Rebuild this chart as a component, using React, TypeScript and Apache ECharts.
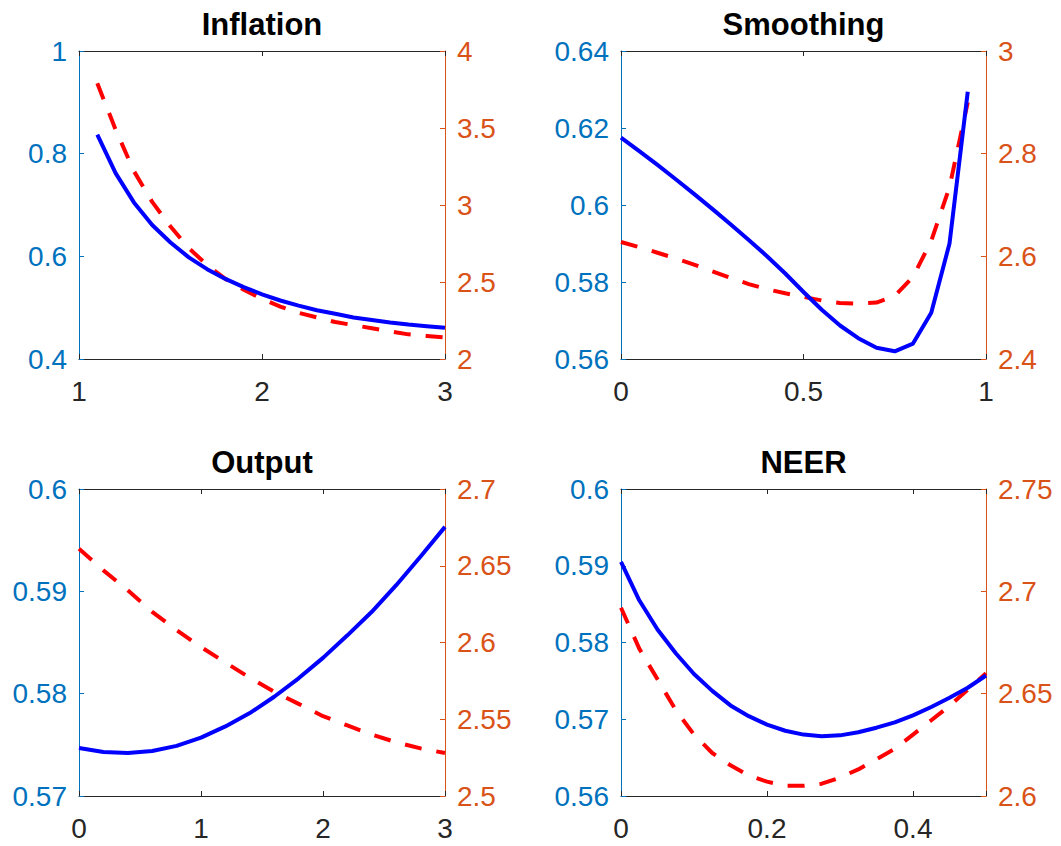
import React, { useEffect, useRef } from "react";
import * as echarts from "echarts";

// ---------- Data ----------
const titles = ["Inflation", "Smoothing", "Output", "NEER"];

const inflationX = [1.1, 1.2, 1.3, 1.4, 1.5, 1.6, 1.7, 1.8, 1.9, 2.0, 2.1, 2.2, 2.3, 2.4, 2.5, 2.6, 2.7, 2.8, 2.9, 3.0];
const inflationBlue = [0.837, 0.762, 0.705, 0.661, 0.627, 0.598, 0.575, 0.556, 0.540, 0.526, 0.514, 0.504, 0.495, 0.488, 0.481, 0.476, 0.471, 0.467, 0.464, 0.461];
const inflationRed = [3.79, 3.49, 3.22, 3.02, 2.86, 2.72, 2.61, 2.52, 2.45, 2.39, 2.34, 2.30, 2.27, 2.24, 2.22, 2.20, 2.18, 2.16, 2.15, 2.14];

const smoothingX = [0, 0.05, 0.1, 0.15, 0.2, 0.25, 0.3, 0.35, 0.4, 0.45, 0.5, 0.55, 0.6, 0.65, 0.7, 0.75, 0.8, 0.85, 0.9, 0.95];
const smoothingBlue = [0.6175, 0.6140, 0.6104, 0.6067, 0.6029, 0.5990, 0.5950, 0.5909, 0.5867, 0.5822, 0.5774, 0.5728, 0.5687, 0.5654, 0.5629, 0.5620, 0.5640, 0.5720, 0.5900, 0.6294];
const smoothingRed = [2.628, 2.618, 2.607, 2.596, 2.584, 2.571, 2.558, 2.546, 2.536, 2.528, 2.521, 2.514, 2.509, 2.508, 2.510, 2.523, 2.560, 2.630, 2.735, 2.900];

const outputX = [0, 0.2, 0.4, 0.6, 0.8, 1.0, 1.2, 1.4, 1.6, 1.8, 2.0, 2.2, 2.4, 2.6, 2.8, 3.0];
const outputBlue = [0.5747, 0.5743, 0.5742, 0.5744, 0.5749, 0.5757, 0.5768, 0.5781, 0.5797, 0.5815, 0.5835, 0.5857, 0.5880, 0.5906, 0.5934, 0.5963];
const outputRed = [2.661, 2.647, 2.634, 2.620, 2.608, 2.597, 2.587, 2.577, 2.568, 2.560, 2.552, 2.546, 2.540, 2.535, 2.531, 2.528];

const neerX = [0, 0.025, 0.05, 0.075, 0.1, 0.125, 0.15, 0.175, 0.2, 0.225, 0.25, 0.275, 0.3, 0.325, 0.35, 0.375, 0.4, 0.425, 0.45, 0.475, 0.5];
const neerBlue = [0.5905, 0.5855, 0.5817, 0.5786, 0.5759, 0.5737, 0.5718, 0.5704, 0.5693, 0.5685, 0.5680, 0.5678, 0.5679, 0.5683, 0.5689, 0.5696, 0.5705, 0.5716, 0.5728, 0.5741, 0.5757];
const neerRed = [2.692, 2.672, 2.657, 2.642, 2.630, 2.621, 2.615, 2.610, 2.607, 2.605, 2.605, 2.606, 2.609, 2.613, 2.618, 2.623, 2.630, 2.637, 2.644, 2.652, 2.660];

// axis ranges: [min, max, interval]
const xRanges = [[1, 3, 1], [0, 1, 0.5], [0, 3, 1], [0, 0.5, 0.2]];
const leftRanges = [[0.4, 1, 0.2], [0.56, 0.64, 0.02], [0.57, 0.6, 0.01], [0.56, 0.6, 0.01]];
const rightRanges = [[2, 4, 0.5], [2.4, 3, 0.2], [2.5, 2.7, 0.05], [2.6, 2.75, 0.05]];

const xData = [inflationX, smoothingX, outputX, neerX];
const blueData = [inflationBlue, smoothingBlue, outputBlue, neerBlue];
const redData = [inflationRed, smoothingRed, outputRed, neerRed];

// ---------- Layout ----------
const grids = [
  { left: 79, top: 51, width: 366, height: 308 },
  { left: 621, top: 51, width: 365, height: 308 },
  { left: 79, top: 489, width: 366, height: 307 },
  { left: 621, top: 489, width: 365, height: 307 },
];

const FONT = "'Liberation Sans', Arial, Helvetica, sans-serif";
const AX = "#262626";
const LBLUE = "#0072BD";
const RORANGE = "#D95319";

function onGrid(v: number, min: number, iv: number) {
  const k = (v - min) / iv;
  return Math.abs(k - Math.round(k)) < 1e-6;
}

export default function App() {
  const ref = useRef<HTMLDivElement>(null);
  useEffect(() => {
    if (!ref.current) return;
    const chart = echarts.init(ref.current, undefined, { renderer: "svg" });

    const xAxis: any[] = [];
    const yAxis: any[] = [];
    const series: any[] = [];
    const graphic: any[] = [];

    grids.forEach((g, i) => {
      const [xmin, xmax, xiv] = xRanges[i];
      const [lmin, lmax, liv] = leftRanges[i];
      const [rmin, rmax, riv] = rightRanges[i];
      xAxis.push({
        type: "value", gridIndex: i, position: "bottom", min: xmin, max: xmax, interval: xiv,
        axisLine: { show: true, onZero: false, lineStyle: { color: AX, width: 1 } },
        axisTick: { show: true, inside: true, length: 5, lineStyle: { color: AX, width: 1 } },
        axisLabel: {
          show: true, color: AX, fontSize: 28, fontFamily: FONT, margin: 18,
          formatter: (v: number) => (onGrid(v, xmin, xiv) ? String(+v.toFixed(4)) : ""),
        },
        splitLine: { show: false },
      });
      xAxis.push({
        type: "value", gridIndex: i, position: "top", min: xmin, max: xmax, interval: xiv,
        axisLine: { show: true, onZero: false, lineStyle: { color: AX, width: 1 } },
        axisTick: { show: true, inside: true, length: 5, lineStyle: { color: AX, width: 1 } },
        axisLabel: { show: false },
        splitLine: { show: false },
      });
      yAxis.push({
        type: "value", gridIndex: i, position: "left", min: lmin, max: lmax, interval: liv,
        axisLine: { show: true, onZero: false, lineStyle: { color: LBLUE, width: 1 } },
        axisTick: { show: true, inside: true, length: 5, lineStyle: { color: LBLUE, width: 1 } },
        axisLabel: {
          show: true, color: LBLUE, fontSize: 28, fontFamily: FONT, margin: 12,
          formatter: (v: number) => String(+v.toFixed(4)),
        },
        splitLine: { show: false },
      });
      yAxis.push({
        type: "value", gridIndex: i, position: "right", min: rmin, max: rmax, interval: riv,
        axisLine: { show: true, onZero: false, lineStyle: { color: RORANGE, width: 1 } },
        axisTick: { show: true, inside: true, length: 5, lineStyle: { color: RORANGE, width: 1 } },
        axisLabel: {
          show: true, color: RORANGE, fontSize: 28, fontFamily: FONT, margin: 12,
          formatter: (v: number) => String(+v.toFixed(4)),
        },
        splitLine: { show: false },
      });
      series.push({
        type: "line", xAxisIndex: 2 * i, yAxisIndex: 2 * i,
        data: xData[i].map((x, k) => [x, blueData[i][k]]),
        showSymbol: false, symbol: "none",
        lineStyle: { color: "#0000FF", width: 4, cap: "butt", join: "round" },
        z: 3,
      });
      series.push({
        type: "line", xAxisIndex: 2 * i, yAxisIndex: 2 * i + 1,
        data: xData[i].map((x, k) => [x, redData[i][k]]),
        showSymbol: false, symbol: "none",
        lineStyle: { color: "#FF0000", width: 4, type: [17, 15], cap: "butt" },
        z: 2,
      });
      graphic.push({
        type: "text",
        x: g.left + g.width / 2,
        y: g.top - 26.5,
        style: {
          text: titles[i], fill: "#000", font: `bold 31px ${FONT}`,
          align: "center", verticalAlign: "middle",
        },
      });
    });

    chart.setOption({
      animation: false,
      backgroundColor: "#fff",
      grid: grids.map((g) => ({ ...g, containLabel: false, show: false })),
      xAxis, yAxis, series, graphic,
    });
    return () => chart.dispose();
  }, []);

  return (
    <div
      ref={ref}
      style={{ position: "absolute", left: 0, top: 0, width: 1061, height: 846, background: "#fff" }}
    />
  );
}
